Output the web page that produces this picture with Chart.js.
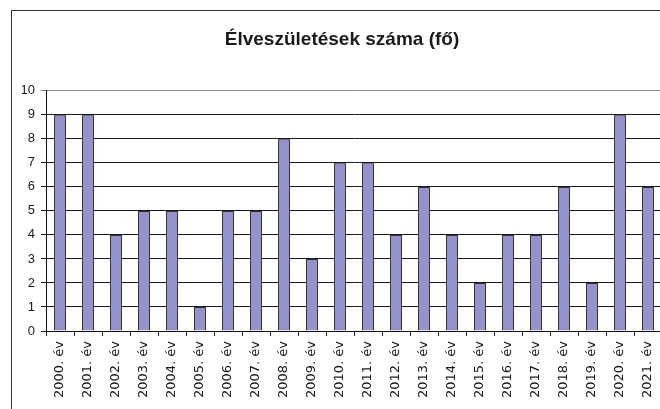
<!DOCTYPE html>
<html>
<head>
<meta charset="utf-8">
<script src="https://cdn.jsdelivr.net/npm/chart.js@4/dist/chart.umd.min.js"></script>
<style>
  html, body { margin: 0; padding: 0; background: #fff; overflow: hidden; width: 660px; height: 409px; }
  .chart-box {
    position: absolute; left: 11px; top: 10px;
    width: 670px; height: 420px;
    border: 1px solid #333;
  }
</style>
</head>
<body>
<div class="chart-box"><canvas id="birthChart" width="670" height="420"></canvas></div>
<script>
/* data */
const years = ["2000. év", "2001. év", "2002. év", "2003. év", "2004. év", "2005. év",
  "2006. év", "2007. év", "2008. év", "2009. év", "2010. év", "2011. év", "2012. év",
  "2013. év", "2014. év", "2015. év", "2016. év", "2017. év", "2018. év", "2019. év",
  "2020. év", "2021. év"];
const births = [9, 9, 4, 5, 5, 1, 5, 5, 8, 3, 7, 7, 4, 6, 4, 2, 4, 4, 6, 2, 9, 6];
const yTicks = [0, 1, 2, 3, 4, 5, 6, 7, 8, 9, 10];
const chartTitle = "Élveszületések száma (fő)";

document.addEventListener("DOMContentLoaded", () => {

  const canvas = document.getElementById("birthChart");

  new Chart(canvas, {
    type: "bar",
    data: {
      labels: years,
      datasets: [{
        data: births,
        backgroundColor: "#9393c9",
        borderColor: "#333",
        borderWidth: 1,
        barPercentage: 0.43,
        categoryPercentage: 1
      }]
    },
    options: {
      responsive: false,
      animation: false,
      layout: { padding: { left: 10, right: 20, top: 0, bottom: 30 } },
      plugins: {
        legend: { display: false },
        tooltip: { enabled: false },
        title: {
          display: true,
          text: chartTitle,
          color: "#1a1a1a",
          font: { family: "Liberation Sans", size: 19, weight: "bold" },
          padding: { top: 17, bottom: 40 }
        }
      },
      scales: {
        x: {
          grid: {
            offset: true,
            drawOnChartArea: false,
            drawTicks: true,
            tickLength: 5,
            color: "#222"
          },
          border: { color: "#111", width: 1 },
          ticks: {
            minRotation: 90,
            maxRotation: 90,
            autoSkip: false,
            padding: 5,
            color: "#1a1a1a",
            font: { family: "DejaVu Sans", size: 13 }
          },
          afterFit: (scale) => { scale.height = 70; }
        },
        y: {
          min: 0,
          max: 10,
          afterBuildTicks: (scale) => { scale.ticks = yTicks.map(v => ({ value: v })); },
          grid: {
            color: (ctx) => ctx.tick && ctx.tick.value === 10 ? "#8a8a8a" : "#1a1a1a",
            lineWidth: 1,
            tickLength: 5
          },
          border: { color: "#111", width: 1 },
          ticks: {
            stepSize: 1,
            padding: 6,
            color: "#1a1a1a",
            font: { family: "Liberation Sans", size: 13 }
          },
          afterFit: (scale) => { scale.width = 24; }
        }
      }
    }
  });

});
</script>
</body>
</html>
